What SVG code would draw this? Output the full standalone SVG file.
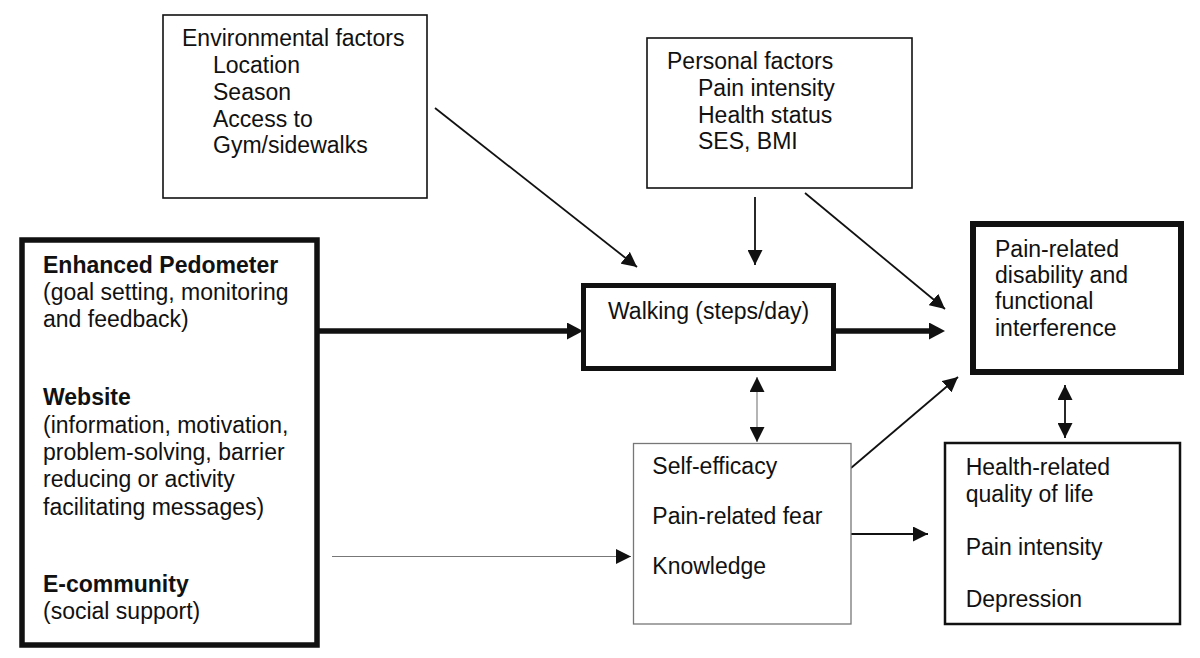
<svg xmlns="http://www.w3.org/2000/svg" width="1200" height="658" viewBox="0 0 1200 658">
<defs>
<style>
text{font-family:"Liberation Sans",Arial,sans-serif;font-size:23px;fill:#111}
.b{font-weight:bold}
.box{fill:#fff;stroke:#111}
.thick{stroke-width:5.5}
.thin{stroke-width:1.6}
.gray{stroke:#777;stroke-width:1.3}
.c{fill:none;stroke:#111;stroke-width:1.8}
.cg{fill:none;stroke:#777;stroke-width:1.1}
.cb{fill:none;stroke:#111;stroke-width:5.5}
</style>
<marker id="a" viewBox="0 0 15 15" refX="15" refY="7.5" markerWidth="15" markerHeight="15" markerUnits="userSpaceOnUse" orient="auto-start-reverse">
<path d="M0,0 L15,7.5 L0,15 z" fill="#111"/>
</marker>
<marker id="ab" viewBox="0 0 16 17" refX="8" refY="8.5" markerWidth="16" markerHeight="17" markerUnits="userSpaceOnUse" orient="auto">
<path d="M0,0 L16,8.5 L0,17 z" fill="#111"/>
</marker>
</defs>
<rect width="1200" height="658" fill="#fff"/>

<g id="connectors">
<line class="cb" x1="312" y1="331" x2="575" y2="331" marker-end="url(#ab)"/>
<line class="cb" x1="836" y1="331" x2="937" y2="331" marker-end="url(#ab)"/>
<line class="c" x1="435" y1="108" x2="637" y2="267" marker-end="url(#a)"/>
<line class="c" x1="755" y1="197" x2="755" y2="265" marker-end="url(#a)"/>
<line class="c" x1="805" y1="193" x2="945" y2="309" marker-end="url(#a)"/>
<line class="cg" x1="757" y1="377" x2="757" y2="442" marker-start="url(#a)" marker-end="url(#a)"/>
<line class="c" x1="851" y1="468" x2="958" y2="377" marker-end="url(#a)"/>
<line class="c" x1="851" y1="534" x2="928" y2="534" marker-end="url(#a)"/>
<line class="cg" x1="332" y1="556.5" x2="631" y2="556.5" marker-end="url(#a)"/>
<line class="c" x1="1065" y1="385" x2="1065" y2="438" stroke-width="2" marker-start="url(#a)" marker-end="url(#a)"/>
</g>

<g id="intervention">
<rect class="box thick" x="22" y="240" width="295" height="405"/>
<text class="b" x="43" y="273">Enhanced Pedometer</text>
<text x="43" y="300">(goal setting, monitoring</text>
<text x="43" y="327">and feedback)</text>
<text class="b" x="43" y="405">Website</text>
<text x="43" y="432.5">(information, motivation,</text>
<text x="43" y="460">problem-solving, barrier</text>
<text x="43" y="487">reducing or activity</text>
<text x="43" y="514.5">facilitating messages)</text>
<text class="b" x="43" y="592">E-community</text>
<text x="43" y="619">(social support)</text>
</g>

<g id="environmental">
<rect class="box thin" x="163" y="15" width="264" height="183"/>
<text x="182" y="46">Environmental factors</text>
<text x="213" y="73">Location</text>
<text x="213" y="100">Season</text>
<text x="213" y="127">Access to</text>
<text x="213" y="153">Gym/sidewalks</text>
</g>

<g id="personal">
<rect class="box thin" x="647" y="38" width="265" height="150"/>
<text x="667" y="69">Personal factors</text>
<text x="698" y="96">Pain intensity</text>
<text x="698" y="122.7">Health status</text>
<text x="698" y="149">SES, BMI</text>
</g>

<g id="walking">
<rect class="box" stroke-width="5" x="583.5" y="285.5" width="250" height="83"/>
<text x="608" y="319">Walking (steps/day)</text>
</g>

<g id="disability">
<rect class="box" stroke-width="6" x="973" y="224" width="208" height="148"/>
<text x="995" y="256.7">Pain-related</text>
<text x="995" y="282.5">disability and</text>
<text x="995" y="309">functional</text>
<text x="995" y="335.5">interference</text>
</g>

<g id="mediators">
<rect class="box gray" x="633.5" y="443.5" width="217.5" height="180.5"/>
<text x="652.3" y="474.3">Self-efficacy</text>
<text x="652.3" y="524.3">Pain-related fear</text>
<text x="652.3" y="574.3">Knowledge</text>
</g>

<g id="outcomes">
<rect class="box" stroke-width="2.5" x="945" y="443" width="235" height="181"/>
<text x="965.7" y="475">Health-related</text>
<text x="965.7" y="501.7">quality of life</text>
<text x="965.7" y="555">Pain intensity</text>
<text x="965.7" y="607">Depression</text>
</g>
</svg>
